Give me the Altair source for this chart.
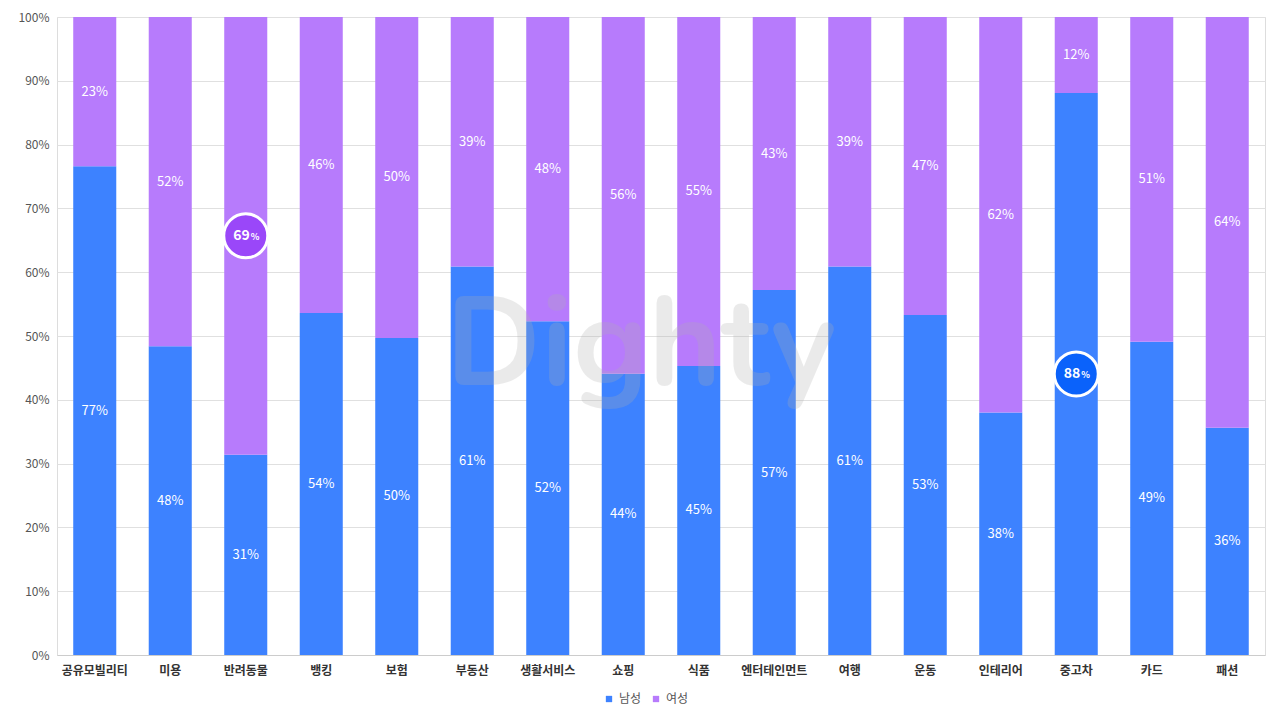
import altair as alt
import pandas as pd

categories = ["공유모빌리티", "미용", "반려동물", "뱅킹", "보험", "부동산", "생활서비스", "쇼핑",
              "식품", "엔터테인먼트", "여행", "운동", "인테리어", "중고차", "카드", "패션"]
male = [76.6, 48.4, 31.4, 53.6, 49.7, 60.9, 52.3, 44.1, 45.3, 57.2, 60.9, 53.3, 38.0, 88.1, 49.1, 35.6]
female = [round(100 - m, 1) for m in male]
series = ["남성", "여성"]
highlights = [("반려동물", "여성"), ("중고차", "남성")]

rows = []
for i, c in enumerate(categories):
    for j, (g, v) in enumerate(zip(series, [male[i], female[i]])):
        rows.append({"category": c, "gender": g, "value": v, "order": j,
                     "hl": (c, g) in highlights})
df = pd.DataFrame(rows)

FONT = "Noto Sans CJK KR"
BLUE = "#3d82ff"
PURPLE = "#b77bfc"

base = alt.Chart(df).transform_stack(
    stack="value", as_=["y0", "y1"], groupby=["category"], sort=[alt.SortField("order")]
).transform_calculate(
    mid="(datum.y0 + datum.y1) / 2",
    lbl="format(datum.value, '.0f')"
)

x = alt.X("category:N", sort=categories, title=None,
          scale=alt.Scale(paddingInner=0.43),
          axis=alt.Axis(labelAngle=0, labelFontWeight="bold", labelFontSize=12, labelColor="#333",
                        ticks=False, domainColor="#ccc", labelPadding=10, labelFont=FONT))

bars = base.mark_bar().encode(
    x=x,
    y=alt.Y("y0:Q", title=None, scale=alt.Scale(domain=[0, 100]),
            axis=alt.Axis(values=list(range(0, 101, 10)), labelExpr="datum.value + '%'",
                          domain=False, ticks=False, gridColor="#e0e0e0", labelColor="#555",
                          labelFontSize=12, labelPadding=8, labelFont=FONT)),
    y2="y1:Q",
    color=alt.Color("gender:N", scale=alt.Scale(domain=series, range=[BLUE, PURPLE]),
                    legend=alt.Legend(orient="none", legendX=546, legendY=676, title=None,
                                      symbolType="square", symbolSize=40, labelFontSize=12,
                                      labelColor="#555", labelFont=FONT, direction="horizontal",
                                      symbolStrokeWidth=0, columnPadding=8)),
    order=alt.Order("order:Q")
)

labels = base.transform_filter("!datum.hl").transform_calculate(
    label="datum.lbl + '%'"
).mark_text(color="white", fontSize=13, font=FONT).encode(
    x=alt.X("category:N", sort=categories), y=alt.Y("mid:Q"), text=alt.Text("label:N"))

hl = base.transform_filter("datum.hl")
shadow = hl.mark_circle(size=2100, color="#000", opacity=0.15, dy=2).encode(
    x=alt.X("category:N", sort=categories), y=alt.Y("mid:Q"))
circ = hl.mark_point(shape="circle", filled=True, size=1936, stroke="white",
                     strokeWidth=3, opacity=1, strokeOpacity=1).encode(
    x=alt.X("category:N", sort=categories), y=alt.Y("mid:Q"),
    fill=alt.Fill("gender:N", scale=alt.Scale(domain=series, range=["#0a62fb", "#9a47f9"]),
                  legend=None))
num = hl.mark_text(color="white", fontSize=14, fontWeight="bold", align="right", dx=4, font=FONT).encode(
    x=alt.X("category:N", sort=categories), y=alt.Y("mid:Q"), text="lbl:N")
pct = hl.mark_text(color="white", fontSize=9, fontWeight="bold", align="left", dx=5, dy=1, font=FONT).encode(
    x=alt.X("category:N", sort=categories), y=alt.Y("mid:Q"), text=alt.value("%"))

wm = alt.Chart(pd.DataFrame({"t": ["Dighty"]})).mark_text(
    fontSize=125, fontWeight="bold", font="Nunito, Lato, Roboto", color="#b0b0b0", opacity=0.25,
    align="center", baseline="middle"
).encode(x=alt.value(584), y=alt.value(330), text="t:N")

chart = alt.layer(bars, labels, wm, shadow, circ, num, pct).resolve_scale(
    color="independent", fill="independent"
).properties(
    width=1208, height=638, padding={"top": 3, "left": 9, "right": 5, "bottom": 5}
).configure_view(stroke=None).configure(font=FONT)

chart.save("out.html", embed_options={"renderer": "svg", "actions": False})
